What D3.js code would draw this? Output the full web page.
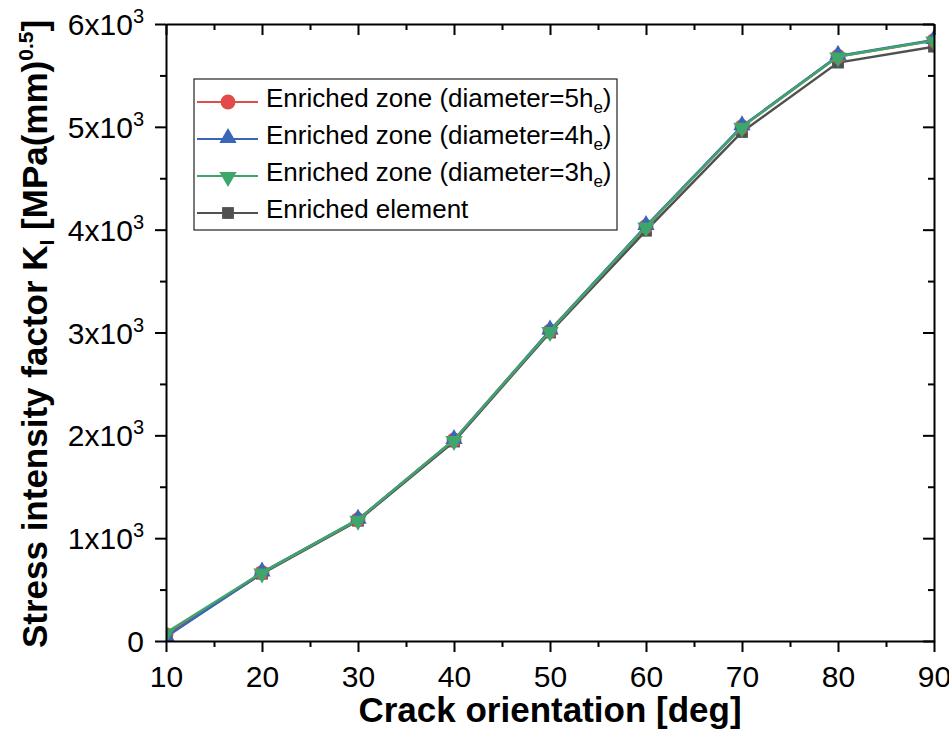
<!DOCTYPE html>
<html>
<head>
<meta charset="utf-8">
<script src="https://d3js.org/d3.v7.min.js"></script>
<style>
  body { margin: 0; background: #fff; }
  text { font-family: "Liberation Sans", Arial, sans-serif; fill: #000; }
</style>
</head>
<body>
<div id="chart"></div>
<script>
// Data
const angles = [10, 20, 30, 40, 50, 60, 70, 80, 90]
const zone5 = [60, 665, 1180, 1955, 3015, 4030, 5000, 5685, 5840]
const zone4 = [40, 665, 1180, 1955, 3020, 4035, 5005, 5690, 5845]
const zone3 = [80, 665, 1180, 1955, 3015, 4030, 5000, 5685, 5840]
const element = [50, 655, 1170, 1940, 3000, 3990, 4950, 5625, 5780]

const xTicks = [10, 20, 30, 40, 50, 60, 70, 80, 90]
const yTicks = [0, 1000, 2000, 3000, 4000, 5000, 6000]
const yTickMant = ["0", "1x10", "2x10", "3x10", "4x10", "5x10", "6x10"]

const series = [
  {name: "Enriched element", sub: null, values: element, color: "#505050", shape: "square"},
  {name: "Enriched zone (diameter=5h", sub: "e", values: zone5, color: "#e34a4a", shape: "circle"},
  {name: "Enriched zone (diameter=4h", sub: "e", values: zone4, color: "#3b65b7", shape: "up"},
  {name: "Enriched zone (diameter=3h", sub: "e", values: zone3, color: "#3ea56b", shape: "down"}
]
const legendOrder = [1, 2, 3, 0]

const W = 949, H = 737
const margin = {top: 24, right: 15, bottom: 96, left: 166}
const plotW = W - margin.left - margin.right
const plotH = H - margin.top - margin.bottom

const svg = d3.select("#chart").append("svg")
  .attr("width", W)
  .attr("height", H)

const x = d3.scaleLinear().domain([10, 90]).range([margin.left, margin.left + plotW])
const y = d3.scaleLinear().domain([0, 6000]).range([margin.top + plotH, margin.top])

// clip region for the data
svg.append("defs").append("clipPath").attr("id", "clip")
  .append("rect")
  .attr("x", margin.left).attr("y", margin.top)
  .attr("width", plotW).attr("height", plotH)

function symbolFor(shape) {
  if (shape === "circle") return d3.symbol().type(d3.symbolCircle).size(175)()
  if (shape === "square") return d3.symbol().type(d3.symbolSquare).size(140)()
  return d3.symbol().type(d3.symbolTriangle).size(130)()
}
function symTransform(shape, px, py) {
  if (shape === "down") return "translate(" + px + "," + (py + 1) + ") rotate(180)"
  if (shape === "up") return "translate(" + px + "," + (py - 1) + ")"
  return "translate(" + px + "," + py + ")"
}

// data lines + markers
const dataG = svg.append("g").attr("clip-path", "url(#clip)")
const line = d3.line().x((d, i) => x(angles[i])).y(d => y(d))

series.forEach(s => {
  dataG.append("path")
    .datum(s.values)
    .attr("d", line)
    .attr("fill", "none")
    .attr("stroke", s.color)
    .attr("stroke-width", 2.5)
  dataG.selectAll(null)
    .data(s.values)
    .enter()
    .append("path")
      .attr("d", symbolFor(s.shape))
      .attr("transform", (d, i) => symTransform(s.shape, x(angles[i]), y(d)))
      .attr("fill", s.color)
})

// axes (Origin style: outward on left/bottom, inward on top/right)
const minorX = d3.range(15, 90, 10)
const minorY = d3.range(500, 6000, 1000)

svg.append("g")
  .attr("transform", "translate(0," + (margin.top + plotH) + ")")
  .call(d3.axisBottom(x).tickValues(xTicks).tickSize(11).tickSizeOuter(0).tickFormat(d3.format("d")))
  .call(g => g.selectAll(".tick text").attr("font-size", 30).attr("dy", 0).attr("y", 46))
svg.append("g")
  .attr("transform", "translate(0," + (margin.top + plotH) + ")")
  .call(d3.axisBottom(x).tickValues(minorX).tickSize(6).tickFormat(""))
  .call(g => g.select(".domain").remove())

svg.append("g")
  .attr("transform", "translate(0," + margin.top + ")")
  .call(d3.axisBottom(x).tickValues(xTicks).tickSize(11).tickSizeOuter(0).tickFormat(""))
svg.append("g")
  .attr("transform", "translate(0," + margin.top + ")")
  .call(d3.axisBottom(x).tickValues(minorX).tickSize(6).tickFormat(""))
  .call(g => g.select(".domain").remove())

svg.append("g")
  .attr("transform", "translate(" + margin.left + ",0)")
  .call(d3.axisLeft(y).tickValues(yTicks).tickSize(11).tickSizeOuter(0).tickFormat(""))
  .call(g => g.selectAll(".tick").each(function(d, i) {
    const t = d3.select(this).append("text")
      .attr("x", -22)
      .attr("dy", "0.35em")
      .attr("text-anchor", "end")
      .attr("font-size", 30)
      .style("fill", "#000")
    t.append("tspan").text(yTickMant[i])
    if (d !== 0) {
      t.append("tspan").attr("font-size", 20).attr("dy", -12).text("3")
    }
  }))
svg.append("g")
  .attr("transform", "translate(" + margin.left + ",0)")
  .call(d3.axisLeft(y).tickValues(minorY).tickSize(6).tickFormat(""))
  .call(g => g.select(".domain").remove())

svg.append("g")
  .attr("transform", "translate(" + (margin.left + plotW) + ",0)")
  .call(d3.axisLeft(y).tickValues(yTicks).tickSize(11).tickSizeOuter(0).tickFormat(""))
svg.append("g")
  .attr("transform", "translate(" + (margin.left + plotW) + ",0)")
  .call(d3.axisLeft(y).tickValues(minorY).tickSize(6).tickFormat(""))
  .call(g => g.select(".domain").remove())

svg.selectAll(".domain").attr("stroke-width", 2)
svg.selectAll(".tick line").attr("stroke-width", 2)

// axis titles
svg.append("text")
  .attr("x", margin.left + plotW / 2 - 0)
  .attr("y", 722)
  .attr("text-anchor", "middle")
  .attr("font-size", 35)
  .attr("font-weight", "bold")
  .text("Crack orientation [deg]")

const yTitle = svg.append("text")
  .attr("transform", "translate(47,334) rotate(-90)")
  .attr("text-anchor", "middle")
  .attr("font-size", 35)
  .attr("font-weight", "bold")
yTitle.append("tspan").text("Stress intensity factor K")
yTitle.append("tspan").attr("font-size", 21).attr("dy", 7).text("I")
yTitle.append("tspan").attr("dy", -7).text(" [MPa(mm)")
yTitle.append("tspan").attr("font-size", 21).attr("dy", -14).text("0.5")
yTitle.append("tspan").attr("dy", 14).text("]")

// legend
const lg = svg.append("g")
lg.append("rect")
  .attr("x", 194).attr("y", 79)
  .attr("width", 423).attr("height", 151)
  .attr("fill", "#fff")
  .attr("stroke", "#222")
  .attr("stroke-width", 1.2)

legendOrder.forEach((si, r) => {
  const s = series[si]
  const ly = 102 + r * 37
  lg.append("line")
    .attr("x1", 197).attr("x2", 258)
    .attr("y1", ly).attr("y2", ly)
    .attr("stroke", s.color).attr("stroke-width", 2)
  lg.append("path")
    .attr("d", symbolFor(s.shape))
    .attr("transform", symTransform(s.shape, 228, ly))
    .attr("fill", s.color)
  const t = lg.append("text")
    .attr("x", 266).attr("y", ly + 5)
    .attr("font-size", 26)
  t.append("tspan").text(s.name)
  if (s.sub) {
    t.append("tspan").attr("font-size", 17).attr("dy", 6).text(s.sub)
    t.append("tspan").attr("dy", -6).text(")")
  }
})
</script>
</body>
</html>
